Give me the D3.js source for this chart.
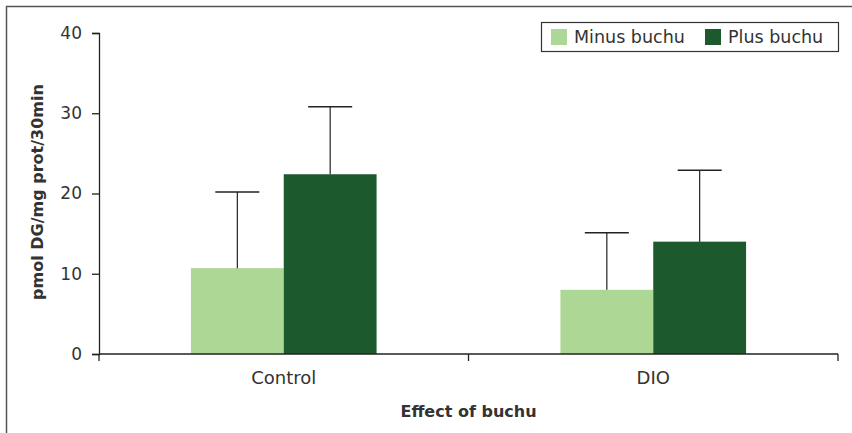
<!DOCTYPE html>
<html>
<head>
<meta charset="utf-8">
<script src="https://cdn.jsdelivr.net/npm/d3@7"></script>
<style>
  body { margin: 0; background: #fff; }
  text { font-family: "DejaVu Sans", "Noto Sans", sans-serif; fill: #333; }
</style>
</head>
<body>
<script>
const categories = ['Control', 'DIO']
const seriesNames = ['Minus buchu', 'Plus buchu']
const minusValues = [10.7, 8.0]
const minusErrors = [9.5, 7.1]
const plusValues = [22.4, 14.0]
const plusErrors = [8.4, 8.9]
const yTicks = [0, 10, 20, 30, 40]

const colors = ['#acd794', '#1c5a2e']
const width = 852, height = 433
const margin = { top: 33, left: 99, right: 14, bottom: 79 }

const rows = categories.map((c, i) => ({
  cat: c,
  vals: [
    { s: seriesNames[0], v: minusValues[i], e: minusErrors[i] },
    { s: seriesNames[1], v: plusValues[i], e: plusErrors[i] }
  ]
}))

const svg = d3.select('body').append('svg').attr('width', width).attr('height', height)

// outer frame (only top and left show in the reference)
svg.append('rect')
  .attr('x', 6.5).attr('y', 6.5)
  .attr('width', width + 10).attr('height', height + 10)
  .attr('fill', 'none').attr('stroke', '#555').attr('stroke-width', 1.5)

const x0 = d3.scaleBand().domain(categories)
  .range([margin.left, width - margin.right]).paddingInner(0).paddingOuter(0)
const x1 = d3.scaleBand().domain(seriesNames)
  .range([0, x0.bandwidth()]).paddingInner(0).paddingOuter(0.99)
const y = d3.scaleLinear().domain([0, 40]).range([height - margin.bottom, margin.top])

const g = svg.append('g')

const groups = g.selectAll('.grp').data(rows).join('g')
  .attr('class', 'grp')
  .attr('transform', d => `translate(${x0(d.cat)},0)`)

groups.selectAll('rect').data(d => d.vals).join('rect')
  .attr('x', d => x1(d.s))
  .attr('y', d => y(d.v))
  .attr('width', x1.bandwidth())
  .attr('height', d => y(0) - y(d.v))
  .attr('fill', (d, i) => colors[i])

// error bars (upper only)
const eb = groups.selectAll('.err').data(d => d.vals).join('g').attr('class', 'err')
eb.append('line')
  .attr('x1', d => x1(d.s) + x1.bandwidth() / 2)
  .attr('x2', d => x1(d.s) + x1.bandwidth() / 2)
  .attr('y1', d => y(d.v))
  .attr('y2', d => y(d.v + d.e))
  .attr('stroke', '#222').attr('stroke-width', 1.2)
eb.append('line')
  .attr('x1', d => x1(d.s) + x1.bandwidth() / 2 - 22)
  .attr('x2', d => x1(d.s) + x1.bandwidth() / 2 + 22)
  .attr('y1', d => y(d.v + d.e))
  .attr('y2', d => y(d.v + d.e))
  .attr('stroke', '#222').attr('stroke-width', 1.5)

// y axis
const yAxis = g.append('g')
  .attr('transform', `translate(${margin.left},0)`)
  .call(d3.axisLeft(y).tickValues(yTicks).tickSize(7).tickPadding(10))
yAxis.selectAll('text').style('font-size', '17px').attr('fill', '#333')
yAxis.selectAll('line, path').attr('stroke', '#222').attr('stroke-width', 1.3)

// x axis: ticks at band edges
const xAxis = g.append('g').attr('transform', `translate(0,${y(0)})`)
xAxis.append('line')
  .attr('x1', margin.left).attr('x2', width - margin.right)
  .attr('stroke', '#222').attr('stroke-width', 1.3)
const edges = categories.map(c => x0(c)).concat([x0(categories[categories.length - 1]) + x0.bandwidth()])
xAxis.selectAll('.tk').data(edges).join('line')
  .attr('class', 'tk')
  .attr('x1', d => d).attr('x2', d => d)
  .attr('y1', 0).attr('y2', 7)
  .attr('stroke', '#222').attr('stroke-width', 1.3)
xAxis.selectAll('.lbl').data(categories).join('text')
  .attr('class', 'lbl')
  .attr('x', d => x0(d) + x0.bandwidth() / 2)
  .attr('y', 30)
  .attr('text-anchor', 'middle')
  .style('font-size', '18px')
  .text(d => d)

// axis titles
svg.append('text')
  .attr('x', (margin.left + width - margin.right) / 2)
  .attr('y', 417)
  .attr('text-anchor', 'middle')
  .style('font-size', '16px').style('font-weight', 'bold')
  .attr('fill', '#222')
  .text('Effect of buchu')

svg.append('text')
  .attr('transform', `translate(43,192) rotate(-90)`)
  .attr('text-anchor', 'middle')
  .style('font-size', '16px').style('font-weight', 'bold')
  .attr('fill', '#222')
  .text('pmol DG/mg prot/30min')

// legend
const legend = svg.append('g').attr('transform', 'translate(541,22)')
legend.append('rect')
  .attr('x', 0.5).attr('y', 0.5).attr('width', 297).attr('height', 29)
  .attr('fill', '#fff').attr('stroke', '#333').attr('stroke-width', 1.2)
const items = legend.selectAll('.it').data(seriesNames).join('g')
  .attr('class', 'it')
  .attr('transform', (d, i) => `translate(${i === 0 ? 10 : 164},0)`)
items.append('rect')
  .attr('x', 0).attr('y', 7).attr('width', 16).attr('height', 16)
  .attr('fill', (d, i) => colors[i])
items.append('text')
  .attr('x', 23).attr('y', 21)
  .style('font-size', '17.5px')
  .text(d => d)
</script>
</body>
</html>
